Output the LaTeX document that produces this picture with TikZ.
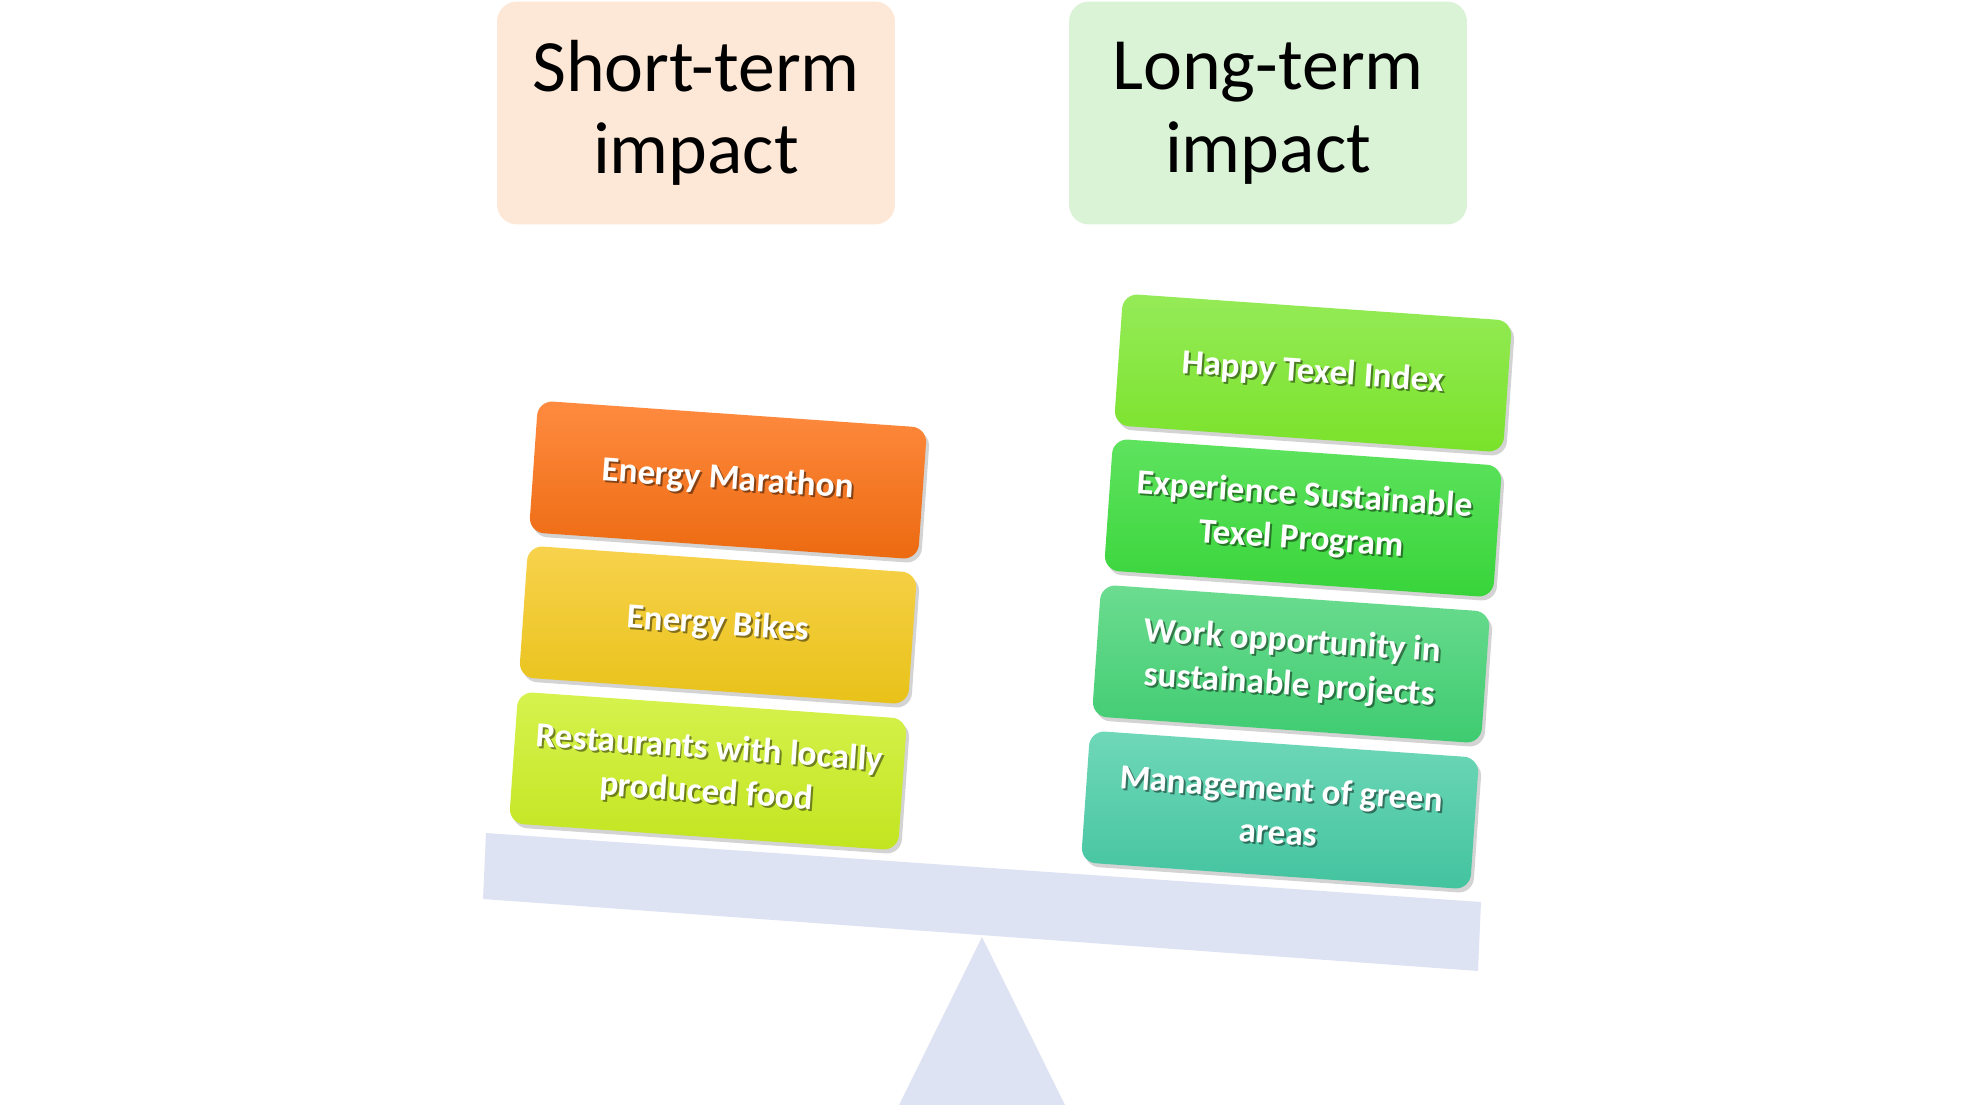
\documentclass[tikz,border=0pt]{standalone}
\usepackage{fontspec}
\setmainfont{Carlito}
\usetikzlibrary{positioning,shadows}

\definecolor{shortbg}{HTML}{FDE8D7}
\definecolor{longbg}{HTML}{DAF3D6}
\definecolor{beambg}{HTML}{DEE3F3}
\definecolor{marathontop}{HTML}{FF8B40}
\definecolor{marathonbot}{HTML}{EC6A10}
\definecolor{bikestop}{HTML}{F8D24C}
\definecolor{bikesbot}{HTML}{E8C218}
\definecolor{foodtop}{HTML}{D6F24E}
\definecolor{foodbot}{HTML}{C2E520}
\definecolor{happytop}{HTML}{95EB58}
\definecolor{happybot}{HTML}{7AE22A}
\definecolor{exptop}{HTML}{5FE35F}
\definecolor{expbot}{HTML}{38D43A}
\definecolor{worktop}{HTML}{6CDC90}
\definecolor{workbot}{HTML}{3ECB70}
\definecolor{greentop}{HTML}{6FD8B8}
\definecolor{greenbot}{HTML}{43C39F}

\tikzset{
  header/.style={rounded corners=0.4cm, minimum width=7.96cm, minimum height=4.46cm,
    inner sep=0pt, align=center, font=\fontsize{42}{47}\selectfont},
  impact/.style={rounded corners=0.3cm, minimum width=7.8cm, minimum height=2.64cm,
    inner sep=0pt, rotate=-4,
    drop shadow={shadow xshift=0.06cm, shadow yshift=-0.08cm, opacity=0.35}},
  impacttext/.style={rotate=-4, align=center, inner sep=0pt,
    font=\bfseries\fontsize{20}{25}\selectfont},
}

% box with gradient and shadowed white text
\newcommand{\impactbox}[5]{%
  \node[impact, top color=#3, bottom color=#4] (#1) at (#2) {};
  \node[impacttext, text=black, text opacity=0.45] (#1-s) at ([shift={(0.04cm,-0.04cm)}]#1.center) {#5};
  \node[impacttext, text=white] (#1-t) at (#1.center) {#5};
}

\begin{document}
\begin{tikzpicture}[x=0.02cm, y=0.02cm]
        \useasboundingbox (0,0) rectangle (1964,-1105);

        % Define the corners of the beam and the tip of the stand
        \coordinate (BL) at (486,-833);
        \coordinate (BR) at (1481,-902);
        \coordinate (BRb) at (1478,-971);
        \coordinate (BLb) at (483,-899);
        \coordinate (T) at (982,-937);

        % Draw the stand and the beam
        \fill[beambg] (T)--(899,-1105)--(1065,-1105)--cycle;
        \fill[beambg] (BL)--(BR)--(BRb)--(BLb)--cycle;

        % Headers
        \node[header, fill=shortbg] (short) at (696,-113) {Short-term\\impact};
        \node[header, fill=longbg] (long) at (1268,-113) {Long-term\\impact};

        % Short-term side
        \impactbox{marathon}{728,-480}{marathontop}{marathonbot}{Energy Marathon}
        \impactbox{bikes}{718,-625}{bikestop}{bikesbot}{Energy Bikes}
        \impactbox{food}{708,-771}{foodtop}{foodbot}{Restaurants with locally\\produced food}

        % Long-term side
        \impactbox{happy}{1313,-373}{happytop}{happybot}{Happy Texel Index}
        \impactbox{exp}{1303,-518}{exptop}{expbot}{Experience Sustainable\\Texel Program}
        \impactbox{work}{1291,-664}{worktop}{workbot}{Work opportunity in\\sustainable projects}
        \impactbox{green}{1280,-810}{greentop}{greenbot}{Management of green\\areas}
\end{tikzpicture}
\end{document}
